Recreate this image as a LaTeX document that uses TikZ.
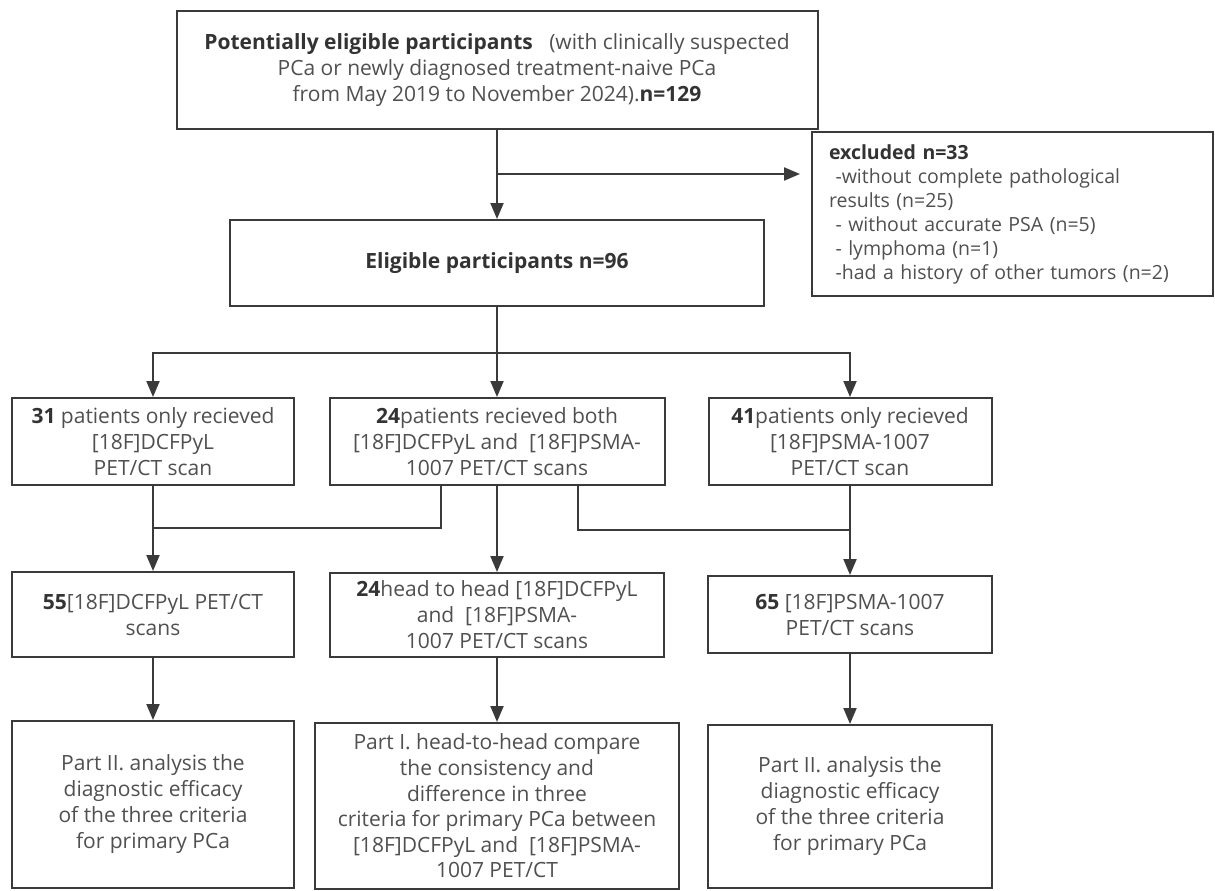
\documentclass[tikz,border=0pt]{standalone}
\usepackage{fontspec}
\setmainfont{Open Sans}
\usetikzlibrary{arrows.meta}
\definecolor{linec}{HTML}{3A3A3A}
\definecolor{txtc}{HTML}{505050}
\definecolor{boldc}{HTML}{333333}
\newcommand{\bnum}[1]{{\color{boldc}\textbf{#1}}}
\begin{document}
\begin{tikzpicture}[x=1pt,y=-1pt,
  box/.style={draw=linec, line width=2pt, fill=white, align=center, text=txtc, inner sep=2pt, font=\fontsize{21}{26}\selectfont},
  arr/.style={draw=linec, line width=2pt, -{Triangle[length=16pt,width=13pt]}},
  ln/.style={draw=linec, line width=2pt}]
\useasboundingbox[fill=white] (0,0) rectangle (1215,891);

\node[box, minimum width=641pt, minimum height=118pt] (top) at (497,70)
  {\bnum{Potentially eligible participants}\ \ \ (with clinically suspected\\
   PCa or newly diagnosed treatment-naive PCa\\
   from May 2019 to November 2024).\bnum{n=129}};

\node[box, minimum width=401pt, minimum height=164pt, text width=367pt, align=left,
  inner xsep=17pt, font=\fontsize{19.5}{24}\selectfont] (excl) at (1012.5,214)
  {\bnum{excluded n=33}\\
   \ -without complete pathological\\
   results (n=25)\\
   \ - without accurate PSA (n=5)\\
   \ - lymphoma (n=1)\\
   \ -had a history of other tumors (n=2)};

\node[box, minimum width=534pt, minimum height=86pt] (elig) at (497,263)
  {\bnum{Eligible participants n=96}};

\node[box, minimum width=282pt, minimum height=87pt] (r2a) at (153,441.5)
  {\bnum{31} patients only recieved\\{}[18F]DCFPyL\\ PET/CT scan};
\node[box, minimum width=335pt, minimum height=87pt] (r2b) at (497,441.5)
  {\bnum{24}patients recieved both\\{}[18F]DCFPyL and\ \ [18F]PSMA-\\ 1007 PET/CT scans};
\node[box, minimum width=283pt, minimum height=87pt] (r2c) at (850,441.5)
  {\bnum{41}patients only recieved\\{}[18F]PSMA-1007\\ PET/CT scan};

\node[box, minimum width=282pt, minimum height=85pt] (r3a) at (153,614.5)
  {\bnum{55}[18F]DCFPyL PET/CT\\ scans};
\node[box, minimum width=334pt, minimum height=84pt] (r3b) at (497,615)
  {\bnum{24}head to head [18F]DCFPyL\\ and\ \ [18F]PSMA-\\ 1007 PET/CT scans};
\node[box, minimum width=284pt, minimum height=77pt] (r3c) at (850,614.5)
  {\bnum{65} [18F]PSMA-1007\\ PET/CT scans};

\node[box, minimum width=282pt, minimum height=167pt] (r4a) at (153,804.5)
  {Part II. analysis the\\ diagnostic efficacy\\ of the three criteria\\ for primary PCa};
\node[box, minimum width=364pt, minimum height=166pt, font=\fontsize{21}{25.6}\selectfont] (r4b) at (497,806)
  {Part I. head-to-head compare\\ the consistency and\\ difference in three\\ criteria for primary PCa between\\{}[18F]DCFPyL and\ \ [18F]PSMA-\\ 1007 PET/CT};
\node[box, minimum width=284pt, minimum height=163pt] (r4c) at (850,806.5)
  {Part II. analysis the\\ diagnostic efficacy\\ of the three criteria\\ for primary PCa};

% connectors
\draw[arr] (top.south) -- (elig.north);
\coordinate (b1) at (497,174);
\coordinate (b1e) at (800,174);
\draw[arr] (b1) -- (b1e);

\coordinate (hub) at (497,353);
\draw[ln] (elig.south) -- (hub);
\draw[arr] (hub) -| (r2a.north);
\draw[arr] (hub) -- (r2b.north);
\draw[arr] (hub) -| (r2c.north);

\draw[arr] (r2a.south) -- (r3a.north);
\coordinate (jl) at (153,528);
\draw[ln] ([xshift=-56pt]r2b.south) |- (jl);
\draw[arr] (r2b.south) -- (r3b.north);
\coordinate (jr) at (850,530);
\draw[ln] ([xshift=81pt]r2b.south) |- (jr);
\draw[arr] (r2c.south) -- (r3c.north);

\draw[arr] (r3a.south) -- (r4a.north);
\draw[arr] (r3b.south) -- (r4b.north);
\draw[arr] (r3c.south) -- (r4c.north);
\end{tikzpicture}
\end{document}
